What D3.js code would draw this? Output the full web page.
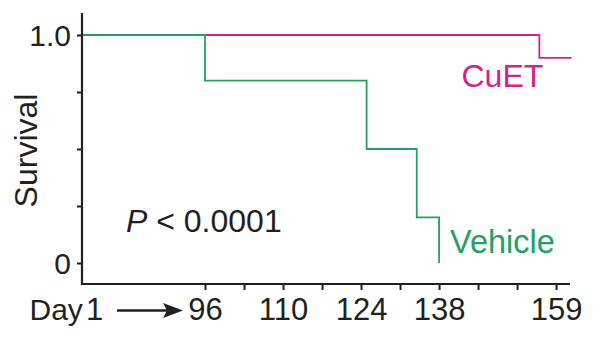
<!DOCTYPE html>
<html>
<head>
<meta charset="utf-8">
<script src="https://cdn.jsdelivr.net/npm/d3@7"></script>
<style>
  html, body { margin: 0; padding: 0; background: #fff; }
  svg { display: block; }
  text { font-family: "Liberation Sans", Arial, Helvetica, sans-serif; fill: #231f20; }
</style>
</head>
<body>
<svg id="chart" width="603" height="346"></svg>
<script>
// Kaplan–Meier style survival steps: [day, survival from that day on]
const vehicleSteps = [[1, 1.0], [96, 0.8], [125, 0.5], [134, 0.2], [138, 0.0]];
const vehicleEnd = 138;
const cuetSteps = [[1, 1.0], [156, 0.9]];
const cuetEnd = 161.8;

const xTickDays = [96, 103, 110, 117, 124, 131, 138, 145, 152, 159];
const xTickLabels = ["96", "", "110", "", "124", "", "138", "", "", "159"];
const yTickValues = [0, 0.25, 0.5, 0.75, 1.0];
const yTickLabels = ["0", "", "", "", "1.0"];

const vehicleColor = "#23a062";
const cuetColor = "#d1238d";
const inkColor = "#231f20";

const svg = d3.select("#chart");

// Broken time axis: day 1 sits at the axis origin, days 96+ are linear.
const x = d3.scaleLinear().domain([1, 96, 161.5]).range([82, 205, 570]);
const y = d3.scaleLinear().domain([0, 1]).range([263, 35]);

const stepLine = d3.line().x(d => x(d[0])).y(d => y(d[1])).curve(d3.curveStepAfter);

function withEnd(steps, endDay) {
  const last = steps[steps.length - 1];
  return steps.concat([[endDay, last[1]]]);
}

// CuET first, vehicle on top
svg.append("path")
  .attr("d", stepLine(withEnd(cuetSteps, cuetEnd)))
  .attr("fill", "none").attr("stroke", cuetColor).attr("stroke-width", 1.8);

svg.append("path")
  .attr("d", stepLine(withEnd(vehicleSteps, vehicleEnd)))
  .attr("fill", "none").attr("stroke", vehicleColor).attr("stroke-width", 1.8);

// Y axis
const yAxis = d3.axisLeft(y)
  .tickValues(yTickValues)
  .tickSize(5)
  .tickPadding(6)
  .tickFormat((d, i) => yTickLabels[i]);

const gy = svg.append("g").attr("transform", "translate(82,0)").call(yAxis);
gy.select(".domain").remove();
gy.selectAll(".tick line").attr("stroke", inkColor).attr("stroke-width", 2);
gy.selectAll(".tick text")
  .attr("font-size", 30).attr("fill", inkColor)
  .attr("font-family", "Liberation Sans, Arial, sans-serif")
  .attr("x", -11).attr("dy", "0.36em");

// X axis
const xAxis = d3.axisBottom(x)
  .tickValues(xTickDays)
  .tickSize(6)
  .tickPadding(6)
  .tickFormat((d, i) => xTickLabels[i]);

const gx = svg.append("g").attr("transform", "translate(0,284)").call(xAxis);
gx.select(".domain").remove();
gx.selectAll(".tick line").attr("stroke", inkColor).attr("stroke-width", 2);
gx.selectAll(".tick text")
  .attr("font-size", 31).attr("fill", inkColor)
  .attr("font-family", "Liberation Sans, Arial, sans-serif")
  .attr("y", 0).attr("dy", 35.5);

// Axis frame lines
svg.append("line")
  .attr("x1", 82).attr("x2", 82).attr("y1", 13).attr("y2", 285)
  .attr("stroke", inkColor).attr("stroke-width", 2.2);
svg.append("line")
  .attr("x1", 81).attr("x2", x(161.5)).attr("y1", 284).attr("y2", 284)
  .attr("stroke", inkColor).attr("stroke-width", 2.2);

// "Day 1 → 96" prefix
svg.append("text").attr("x", 29.5).attr("y", 319.5).attr("font-size", 30).text("Day");
svg.append("text").attr("x", 86).attr("y", 319.5).attr("font-size", 31).text("1");
svg.append("line")
  .attr("x1", 117).attr("x2", 170).attr("y1", 310.5).attr("y2", 310.5)
  .attr("stroke", inkColor).attr("stroke-width", 2.6);
svg.append("path")
  .attr("d", "M183,310.5 L163,303 L167,310.5 L163,318 Z")
  .attr("fill", inkColor);

// Axis title
svg.append("text")
  .attr("transform", "translate(36.5,150.5) rotate(-90)")
  .attr("text-anchor", "middle")
  .attr("font-size", 32)
  .text("Survival");

// P value
const pText = svg.append("text").attr("x", 126).attr("y", 232).attr("font-size", 32);
pText.append("tspan").attr("font-style", "italic").text("P");
pText.append("tspan").text(" < 0.0001");

// Series labels
svg.append("text").attr("x", 461.5).attr("y", 87).attr("font-size", 32)
  .style("fill", cuetColor).text("CuET");
svg.append("text").attr("x", 450).attr("y", 253).attr("font-size", 32.5)
  .style("fill", vehicleColor).text("Vehicle");
</script>
</body>
</html>
